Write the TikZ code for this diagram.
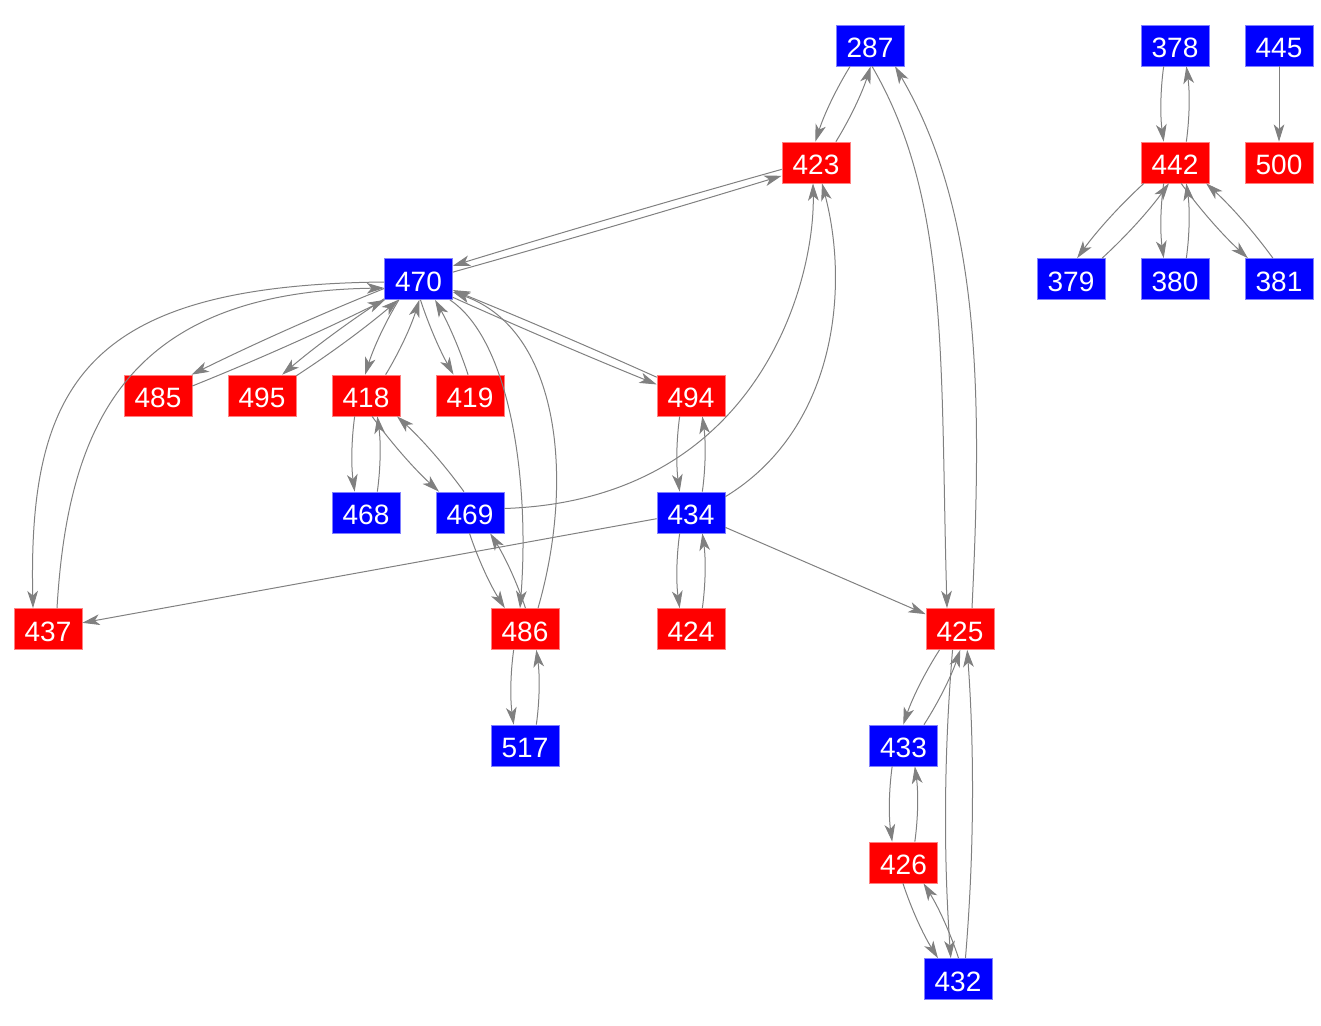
\documentclass[tikz,border=0pt]{standalone}
\usepackage{fontspec}
\setmainfont{Liberation Sans}
\usetikzlibrary{arrows.meta,calc}
\definecolor{nblue}{RGB}{0,0,255}
\definecolor{nred}{RGB}{255,0,0}
\definecolor{egray}{RGB}{128,128,128}
\tikzset{
  nbox/.style={rectangle, minimum width=51pt, minimum height=30.75pt, inner sep=0pt, line width=0.5pt, text=white, text height=18.4pt, text depth=0pt, font=\fontsize{21}{25}\selectfont},
  bn/.style={nbox, fill=nblue, draw=nblue!50!white},
  rn/.style={nbox, fill=nred, draw=nred!50!white},
  lnk/.style={draw=egray, line width=0.75pt, -{Stealth[length=13pt,width=8pt,inset=3.5pt]}},
  pp/.style 2 args={to path={let \p1=(\tikztostart), \p2=(\tikztotarget),
    \n1={atan2(\y2-\y1,\x2-\x1)}, \n2={cos(\n1)}, \n3={sin(\n1)},
    \n6={\n2/max(abs(\n2),0.003)}, \n7={\n3/max(abs(\n3),0.003)},
    \n4={min((25.75-#1*\n3*\n6)/max(abs(\n2),0.003),(15.625+#1*\n2*\n7)/max(abs(\n3),0.003))},
    \n5={min((25.75+#1*\n3*\n6)/max(abs(\n2),0.003),(15.625-#1*\n2*\n7)/max(abs(\n3),0.003))},
    \p3=({\x1+#1*\n3+\n4*\n2},{\y1-#1*\n2+\n4*\n3}),
    \p4=({\x2+#1*\n3-\n5*\n2},{\y2-#1*\n2-\n5*\n3})
    in (\p3) .. controls ({\x3+(\x4-\x3)/3+#2*\n3},{\y3+(\y4-\y3)/3-#2*\n2}) and ({\x4-(\x4-\x3)/3+#2*\n3},{\y4-(\y4-\y3)/3-#2*\n2}) .. (\p4)}},
  pv/.style={lnk, pp={8.5}{2.6}},
  pd/.style={lnk, pp={7}{2.5}}
}
\begin{document}
\begin{tikzpicture}[x=0.75pt,y=-0.75pt]
\useasboundingbox (0,0) rectangle (1321,1025);
% nodes
\node[bn] (n287) at (870,45.5) {287};
\node[bn] (n378) at (1175,45.5) {378};
\node[bn] (n445) at (1279,45.5) {445};
\node[rn] (n423) at (816,162.5) {423};
\node[rn] (n442) at (1175,162.5) {442};
\node[rn] (n500) at (1279,162.5) {500};
\node[bn] (n470) at (418.5,279) {470};
\node[bn] (n379) at (1071,279) {379};
\node[bn] (n380) at (1175,279) {380};
\node[bn] (n381) at (1279,279) {381};
\node[rn] (n485) at (158,395.5) {485};
\node[rn] (n495) at (262,395.5) {495};
\node[rn] (n418) at (366,395.5) {418};
\node[rn] (n419) at (470,395.5) {419};
\node[rn] (n494) at (691,395.5) {494};
\node[bn] (n468) at (366,512.5) {468};
\node[bn] (n469) at (470,512.5) {469};
\node[bn] (n434) at (691,512.5) {434};
\node[rn] (n437) at (48,629) {437};
\node[rn] (n486) at (525,629) {486};
\node[rn] (n424) at (691,629) {424};
\node[rn] (n425) at (960,629) {425};
\node[bn] (n517) at (525,745.5) {517};
\node[bn] (n433) at (903.5,745.5) {433};
\node[rn] (n426) at (903.5,862.5) {426};
\node[bn] (n432) at (958,979) {432};
% right component
\draw[pv] (n378) to (n442);
\draw[pv] (n442) to (n378);
\draw[lnk] (n445) -- (n500);
\draw[pd] (n442) to (n379);
\draw[pd] (n379) to (n442);
\draw[pv] (n442) to (n380);
\draw[pv] (n380) to (n442);
\draw[pd] (n442) to (n381);
\draw[pd] (n381) to (n442);
% main component
\draw[pd] (n287) to (n423);
\draw[pd] (n423) to (n287);
\draw[lnk] ($(n287.south)+(2,0)$) .. controls (950,200) and (940,360) .. ($(n425.north)+(-13,0)$);
\draw[lnk] ($(n425.north)+(12,0)$) .. controls (982,400) and (982,215) .. ($(n287.south)+(25,0)$);
\draw[lnk, pp={2.3}{1}] (n470) to (n423);
\draw[lnk, pp={2.3}{1}] (n423) to (n470);
\draw[lnk] ($(n470.west)+(0,3)$) .. controls (90,285) and (28,380) .. ($(n437.north)+(-15,0)$);
\draw[lnk] ($(n437.north)+(9,0)$) .. controls (68,420) and (130,292) .. ($(n470.west)+(0,9)$);
\draw[lnk, pp={4}{2}] (n470) to (n485);
\draw[lnk, pp={4}{2}] (n485) to (n470);
\draw[lnk, pp={3.5}{2}] (n470) to (n495);
\draw[lnk, pp={3.5}{2}] (n495) to (n470);
\draw[pd] (n470) to (n418);
\draw[pd] (n418) to (n470);
\draw[lnk, pp={5}{2}] (n470) to (n419);
\draw[lnk, pp={5}{2}] (n419) to (n470);
\draw[lnk] ($(n470.south east)+(-3,0)$) .. controls (510,340) and (530,480) .. ($(n486.north)+(-5,0)$);
\draw[lnk] ($(n486.north)+(13,0)$) .. controls (575,480) and (560,330) .. ($(n470.east)+(0,13)$);
\draw[lnk, pp={2.5}{1}] (n470) to (n494);
\draw[lnk, pp={2.5}{1}] (n494) to (n470);
\draw[pv] (n418) to (n468);
\draw[pv] (n468) to (n418);
\draw[pd] (n418) to (n469);
\draw[pd] (n469) to (n418);
\draw[lnk] ($(n469.east)+(0,-4)$) .. controls (760,500) and (815,280) .. ($(n423.south)+(-3,0)$);
\draw[lnk] ($(n434.north east)+(0,5)$) .. controls (835,430) and (850,290) .. ($(n423.south)+(6,0)$);
\draw[pv] (n494) to (n434);
\draw[pv] (n434) to (n494);
\draw[lnk] (n434) -- (n437);
\draw[lnk] (n434) -- (n425);
\draw[pv] (n434) to (n424);
\draw[pv] (n424) to (n434);
\draw[pd] (n469) to (n486);
\draw[pd] (n486) to (n469);
\draw[pv] (n486) to (n517);
\draw[pv] (n517) to (n486);
\draw[pd] (n425) to (n433);
\draw[pd] (n433) to (n425);
\draw[pv] (n433) to (n426);
\draw[pv] (n426) to (n433);
\draw[pd] (n426) to (n432);
\draw[pd] (n432) to (n426);
\draw[lnk, pp={5.5}{6}] (n425) to (n432);
\draw[lnk, pp={5.5}{6}] (n432) to (n425);
\end{tikzpicture}
\end{document}
